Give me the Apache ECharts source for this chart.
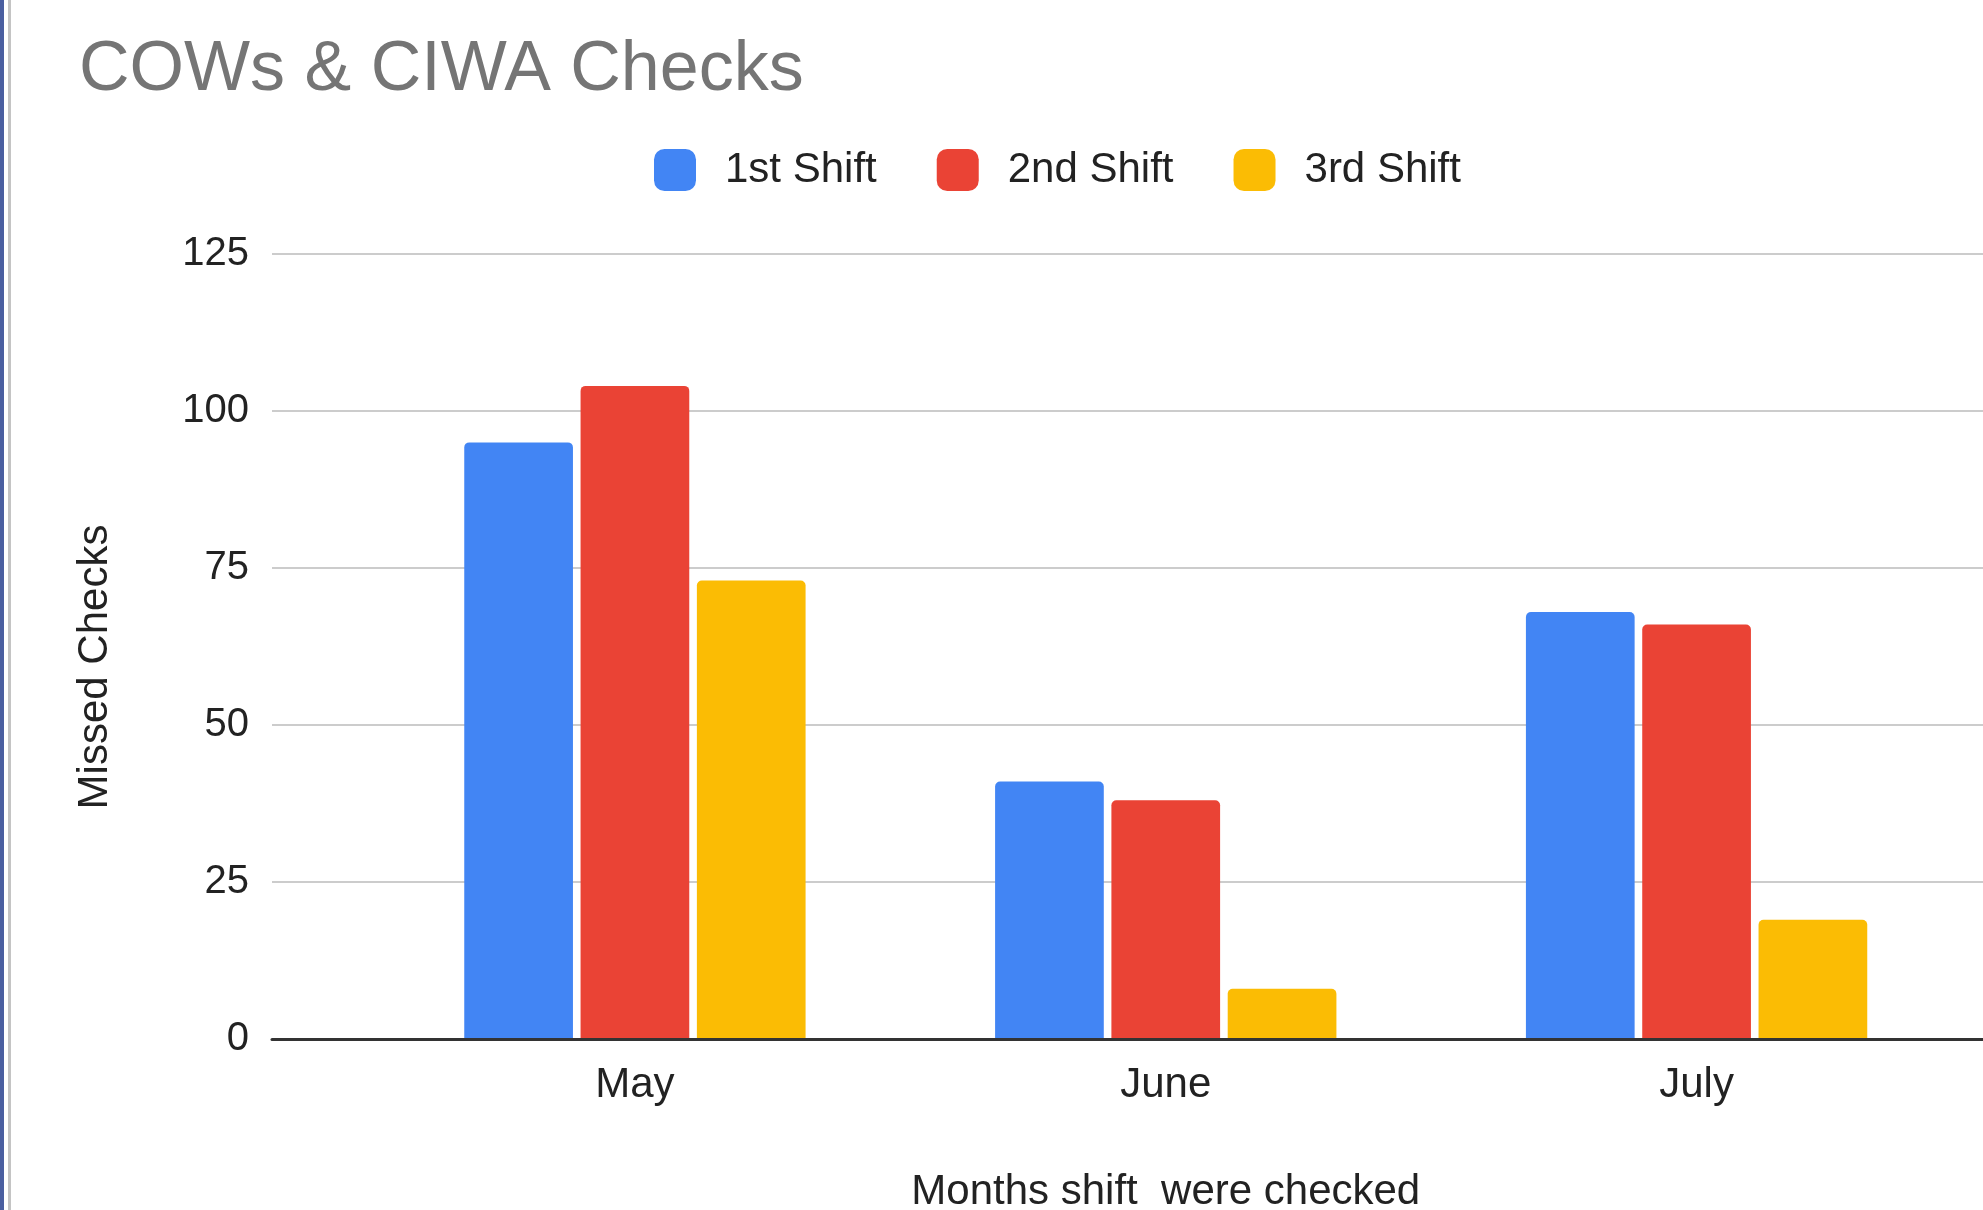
<!DOCTYPE html>
<html>
<head>
<meta charset="utf-8">
<script src="https://cdn.jsdelivr.net/npm/echarts@6/dist/echarts.min.js"></script>
<style>
html,body{margin:0;padding:0;background:#fff;}
#c{width:1983px;height:1210px;}
</style>
</head>
<body>
<div id="c"></div>
<script>
const months = ['May', 'June', 'July'];
const shift1 = [95, 41, 68];
const shift2 = [104, 38, 66];
const shift3 = [73, 8, 19];
const seriesNames = ['1st Shift', '2nd Shift', '3rd Shift'];
const yMin = 0, yMax = 125, yStep = 25;

const FONT = '"Liberation Sans", Arial, sans-serif';
const colors = ['#4285F4', '#EA4335', '#FBBC04'];
const chart = echarts.init(document.getElementById('c'));
const gridTop = 254, gridBottom = 171;

const barStyle = c => ({ color: c, borderRadius: [5, 5, 0, 0] });

chart.setOption({
  animation: false,
  backgroundColor: '#fff',
  title: {
    text: 'COWs & CIWA Checks',
    left: 74, top: 31,
    textStyle: { fontFamily: FONT, fontSize: 70, fontWeight: 'normal', color: '#757575' }
  },
  legend: {
    left: 654, top: 149,
    itemWidth: 42, itemHeight: 42, itemGap: 60,
    icon: 'roundRect',
    padding: 0,
    textStyle: { fontFamily: FONT, fontSize: 42, color: '#222', padding: [0, 0, 0, 24] },
    data: seriesNames
  },
  graphic: [
    { type: 'rect', shape: { x: 0, y: 0, width: 4, height: 1210 }, style: { fill: '#4a5fa0' } },
    { type: 'rect', shape: { x: 8, y: 0, width: 3, height: 1210 }, style: { fill: '#c4c4c4' } },
    { type: 'text', x: 95, y: 667, rotation: Math.PI / 2,
      style: { text: 'Missed Checks', fontFamily: FONT, fontSize: 42, fill: '#222', align: 'center', verticalAlign: 'middle' } }
  ],
  grid: [
    { left: 272, right: 0, top: gridTop, bottom: gridBottom, outerBoundsMode: 'none', containLabel: false },
    { left: 369.5, right: 21, top: gridTop, bottom: gridBottom, outerBoundsMode: 'none', containLabel: false }
  ],
  xAxis: [
    { type: 'category', gridIndex: 0, data: months,
      axisLine: { show: true, lineStyle: { color: '#333', width: 3 } },
      axisTick: { show: false }, axisLabel: { show: false }, splitLine: { show: false }, z: 10 },
    { type: 'category', gridIndex: 1, data: months,
      axisLine: { show: false }, axisTick: { show: false },
      axisLabel: { fontFamily: FONT, fontSize: 42, color: '#222', margin: 25 },
      name: 'Months shift  were checked', nameLocation: 'middle', nameGap: 132,
      nameTextStyle: { fontFamily: FONT, fontSize: 42, color: '#222' } }
  ],
  yAxis: [
    { type: 'value', gridIndex: 0, min: yMin, max: yMax, interval: yStep,
      axisLine: { show: false }, axisTick: { show: false },
      axisLabel: { fontFamily: FONT, fontSize: 40, color: '#222', margin: 23 },
      splitLine: { lineStyle: { color: '#cccccc', width: 2 } } },
    { type: 'value', gridIndex: 1, min: yMin, max: yMax, interval: yStep,
      axisLine: { show: false }, axisTick: { show: false }, axisLabel: { show: false },
      splitLine: { show: false } }
  ],
  series: [shift1, shift2, shift3].map((d, i) => ({
    name: seriesNames[i], type: 'bar', xAxisIndex: 1, yAxisIndex: 1,
    data: d, barGap: '7%', barCategoryGap: '35.7%',
    itemStyle: barStyle(colors[i])
  }))
});
</script>
</body>
</html>
